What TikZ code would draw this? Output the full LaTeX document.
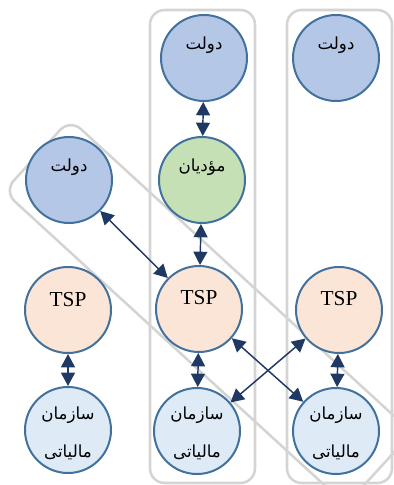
\documentclass[tikz,border=0pt]{standalone}
\usepackage{fontspec}
\setmainfont{Liberation Serif}
\newfontfamily\arabicfont[Script=Arabic]{DejaVu Sans}
\TeXXeTstate=1
\usetikzlibrary{arrows.meta}
\definecolor{bordc}{HTML}{41719C}
\definecolor{arrc}{HTML}{203864}
\definecolor{govc}{HTML}{B4C7E7}
\definecolor{payc}{HTML}{C5E0B4}
\definecolor{tspc}{HTML}{FBE5D6}
\definecolor{orgc}{HTML}{DEEBF7}
\definecolor{grpc}{HTML}{D4D4D4}
\tikzset{
  grp/.style={draw=grpc, line width=1.9pt, rounded corners=11pt},
  circ/.style={circle, draw=bordc, line width=1.5pt, minimum size=64.5pt, inner sep=0pt},
  artext/.style={inner sep=0pt, font=\arabicfont\fontsize{12.5}{15}\selectfont},
  tsptext/.style={inner sep=0pt, font=\fontsize{16}{19}\selectfont},
  arr/.style={draw=arrc, line width=1.1pt, {Triangle[width=10.5pt,length=10pt]}-{Triangle[width=10.5pt,length=10pt]}}
}
\begin{document}
\begin{tikzpicture}[x=0.75pt,y=-0.75pt]
\useasboundingbox (0,0) rectangle (393,485);
% group frames
\draw[grp] (150,10) rectangle (255,483);
\draw[grp] (287,10) rectangle (392,483);
\node[grp, rotate=-42.5, minimum width=348pt, minimum height=73.5pt, inner sep=0pt] (diag) at (208,312) {};
% left column
\node[circ, fill=govc] (g1) at (69,180) {};
\node[artext] (g1t) at (69,167) {\beginR دولت\endR};
\node[circ, fill=tspc] (t1) at (68,310) {};
\node[tsptext] (t1t) at (68,300) {TSP};
\node[circ, fill=orgc] (o1) at (68,430) {};
\node[artext] (o1a) at (68,415) {\beginR سازمان\endR};
\node[artext] (o1b) at (68,452) {\beginR مالیاتی\endR};
% middle column
\node[circ, fill=govc] (g2) at (204,58) {};
\node[artext] (g2t) at (204,45) {\beginR دولت\endR};
\node[circ, fill=payc] (p2) at (202,180) {};
\node[artext] (p2t) at (202,167) {\beginR مؤدیان\endR};
\node[circ, fill=tspc] (t2) at (199,309) {};
\node[tsptext] (t2t) at (199,298) {TSP};
\node[circ, fill=orgc] (o2) at (197,431) {};
\node[artext] (o2a) at (197,415) {\beginR سازمان\endR};
\node[artext] (o2b) at (197,452) {\beginR مالیاتی\endR};
% right column
\node[circ, fill=govc] (g3) at (336,58) {};
\node[artext] (g3t) at (336,45) {\beginR دولت\endR};
\node[circ, fill=tspc] (t3) at (339,310) {};
\node[tsptext] (t3t) at (339,299) {TSP};
\node[circ, fill=orgc] (o3) at (336,431) {};
\node[artext] (o3a) at (336,415) {\beginR سازمان\endR};
\node[artext] (o3b) at (336,452) {\beginR مالیاتی\endR};
% connectors
\draw[arr] (g2) -- (p2);
\draw[arr] (p2) -- (t2);
\draw[arr] (g1) -- (t2);
\draw[arr] (t1) -- (o1);
\draw[arr] (t2) -- (o2);
\draw[arr] (t3) -- (o3);
\draw[arr] (t2) -- (o3);
\draw[arr] (t3) -- (o2);
\end{tikzpicture}
\end{document}
